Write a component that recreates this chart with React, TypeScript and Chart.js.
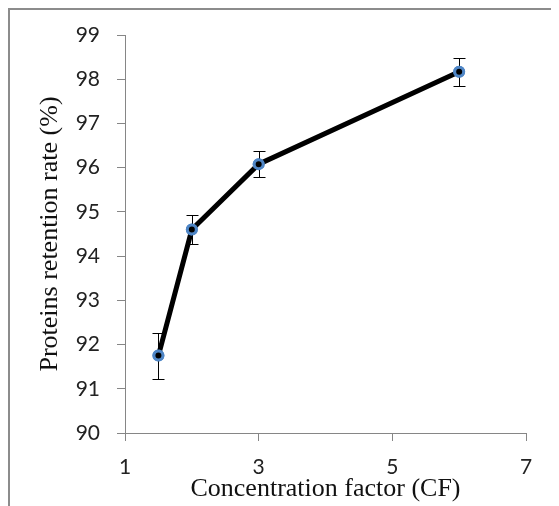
import React, { useEffect, useRef } from "react";
import { Chart, registerables } from "chart.js";

Chart.register(...registerables);

const concentrationFactor = [1.5, 2, 3, 6];
const retentionRate = [91.75, 94.6, 96.08, 98.17];
const retentionError = [0.52, 0.32, 0.29, 0.32];
const xTicks = [1, 3, 5, 7];
const yMin = 90;
const yMax = 99;

const errorBarPlugin = {
  id: "errorBars",
  afterDatasetsDraw(chart: any) {
    const { ctx, scales } = chart;
    const xs = scales.x;
    const ys = scales.y;
    ctx.save();
    ctx.strokeStyle = "#000";
    ctx.lineWidth = 1;
    concentrationFactor.forEach((cx, i) => {
      const px = Math.round(xs.getPixelForValue(cx)) + 0.5;
      const top = Math.round(ys.getPixelForValue(retentionRate[i] + retentionError[i])) + 0.5;
      const bot = Math.round(ys.getPixelForValue(retentionRate[i] - retentionError[i])) + 0.5;
      const cap = 6;
      ctx.beginPath();
      ctx.moveTo(px, top);
      ctx.lineTo(px, bot);
      ctx.moveTo(px - cap, top);
      ctx.lineTo(px + cap, top);
      ctx.moveTo(px - cap, bot);
      ctx.lineTo(px + cap, bot);
      ctx.stroke();
    });
    ctx.restore();
    const meta = chart.getDatasetMeta(0);
    meta.data.forEach((pt: any) => pt.draw(ctx, chart.chartArea));
  },
};

export default function App() {
  const ref = useRef<HTMLCanvasElement>(null);
  useEffect(() => {
    document.body.style.overflow = "hidden";
    const chart = new Chart(ref.current as HTMLCanvasElement, {
      type: "line",
      data: {
        datasets: [
          {
            data: concentrationFactor.map((x, i) => ({ x, y: retentionRate[i] })),
            borderColor: "#000",
            borderWidth: 5,
            pointBackgroundColor: "#000",
            pointBorderColor: "#4f86c6",
            pointBorderWidth: 3,
            pointRadius: 4.5,
            tension: 0,
          },
        ],
      },
      options: {
        responsive: false,
        animation: false,
        layout: { padding: { left: 0, top: 25, right: 33, bottom: 0 } },
        plugins: { legend: { display: false }, tooltip: { enabled: false } },
        scales: {
          x: {
            type: "linear",
            min: xTicks[0],
            max: xTicks[xTicks.length - 1],
            afterBuildTicks(scale: any) {
              scale.ticks = xTicks.map((v) => ({ value: v }));
            },
            afterFit(scale: any) {
              scale.height = 73;
            },
            border: { color: "#868686", width: 1 },
            grid: { display: true, drawOnChartArea: false, drawTicks: true, tickLength: 8, color: "#868686" },
            ticks: {
              padding: 14,
              color: "#222",
              font: { family: "Lato", size: 21 },
            },
            title: {
              display: true,
              text: "Concentration factor (CF)",
              color: "#111",
              font: { family: "Liberation Serif", size: 26 },
              padding: { top: 0, bottom: 1 },
            },
          },
          y: {
            type: "linear",
            min: yMin,
            max: yMax,
            afterFit(scale: any) {
              scale.width = 115;
              scale.paddingTop = 0;
              scale.paddingBottom = 0;
            },
            border: { color: "#868686", width: 1 },
            grid: { display: true, drawOnChartArea: false, drawTicks: true, tickLength: 8, color: "#868686" },
            ticks: {
              stepSize: 1,
              padding: 17,
              color: "#222",
              font: { family: "Lato", size: 21 },
            },
            title: {
              display: true,
              text: "Proteins retention rate (%)",
              color: "#111",
              font: { family: "Liberation Serif", size: 26 },
              padding: { top: 25, bottom: 0 },
            },
          },
        },
      },
      plugins: [errorBarPlugin],
    } as any);
    return () => chart.destroy();
  }, []);
  return (
    <div
      style={{
        width: 549,
        height: 496,
        borderTop: "2px solid #8c8c8c",
        borderLeft: "2px solid #8c8c8c",
        background: "#fff",
      }}
    >
      <canvas ref={ref} width={549} height={496} style={{ display: "block" }} />
    </div>
  );
}
